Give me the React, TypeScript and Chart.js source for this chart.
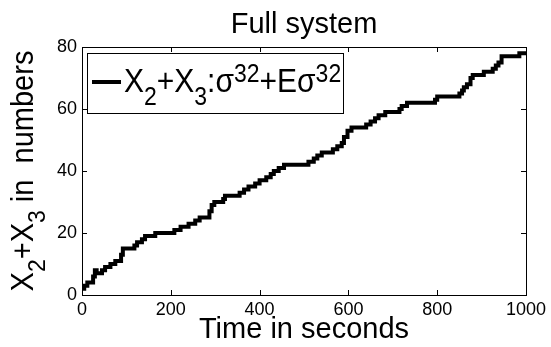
import { useEffect, useRef } from "react";
import { Chart, registerables } from "chart.js";

Chart.register(...registerables);

// Jump times (s) and the count X2+X3 reached at each jump
const TIME_S = [
  0, 5, 12, 25, 29, 33, 45, 52, 64, 75, 88, 92, 118, 124, 135, 142, 165, 208,
  222, 240, 255, 265, 287, 292, 298, 318, 322, 355, 365, 375, 390, 400, 415,
  425, 432, 443, 455, 510, 522, 530, 540, 565, 575, 585, 590, 598, 607, 640,
  650, 660, 668, 683, 715, 720, 732, 795, 800, 850, 856, 860, 867, 875, 880,
  905, 910, 925, 932, 938, 945, 985, 1000,
];
const COUNT = [
  2, 3, 4, 6, 8, 7, 8, 9, 10, 11, 13, 15, 16, 17, 18, 19, 20, 21,
  22, 23, 24, 25, 27, 29, 30, 31, 32, 33, 34, 35, 36, 37, 38,
  39, 40, 41, 42, 43, 44, 45, 46, 47, 48, 49, 51, 53, 54, 55,
  56, 57, 58, 59, 60, 61, 62, 63, 64, 65, 66, 67, 68, 70, 71,
  72, 72, 73, 74, 75, 77, 78, 78,
];

const X_TICKS = [0, 200, 400, 600, 800, 1000];
const Y_TICKS = [0, 20, 40, 60, 80];

const TITLE = "Full system";
const X_LABEL = "Time in seconds";

type Seg = [string, "n" | "sub" | "sup"];
const Y_LABEL: Seg[] = [
  ["X", "n"],
  ["2", "sub"],
  ["+X", "n"],
  ["3", "sub"],
  [" in  numbers", "n"],
];
const LEGEND_LABEL: Seg[] = [
  ["X", "n"],
  ["2", "sub"],
  ["+X", "n"],
  ["3", "sub"],
  [":\u03c3", "n"],
  ["32", "sup"],
  ["+E\u03c3", "n"],
  ["32", "sup"],
];

const FAMILY = '"Liberation Sans", Arial, Helvetica, sans-serif';

function drawRich(
  ctx: CanvasRenderingContext2D,
  segs: Seg[],
  x: number,
  baseline: number,
  mainPx: number,
  smallPx: number,
  subDrop: number,
  supRise: number,
  align: "left" | "center",
  yStretch = 1
) {
  const font = (m: string) => `${m === "n" ? mainPx : smallPx}px ${FAMILY}`;
  let total = 0;
  for (const [t, m] of segs) {
    ctx.font = font(m);
    total += ctx.measureText(t).width;
  }
  ctx.save();
  ctx.translate(align === "center" ? x - total / 2 : x, baseline);
  ctx.scale(1, yStretch);
  let cx = 0;
  ctx.textAlign = "left";
  ctx.textBaseline = "alphabetic";
  for (const [t, m] of segs) {
    ctx.font = font(m);
    const dy = m === "sub" ? subDrop : m === "sup" ? -supRise : 0;
    ctx.fillText(t, cx, dy / yStretch);
    cx += ctx.measureText(t).width;
  }
  ctx.restore();
}

const decorations = {
  id: "decorations",
  afterDatasetsDraw(chart: Chart) {
    const { ctx, chartArea } = chart;
    const { left, right, top, bottom } = chartArea;
    const xs = chart.scales.x;
    const ys = chart.scales.y;
    ctx.save();
    ctx.strokeStyle = "#000";
    ctx.fillStyle = "#000";
    ctx.lineWidth = 1;

    // inward ticks on all four sides
    const tl = 5;
    ctx.beginPath();
    for (const v of X_TICKS) {
      const px = Math.round(xs.getPixelForValue(v)) + 0.5;
      ctx.moveTo(px, bottom);
      ctx.lineTo(px, bottom - tl);
      ctx.moveTo(px, top);
      ctx.lineTo(px, top + tl);
    }
    for (const v of Y_TICKS) {
      const py = Math.round(ys.getPixelForValue(v)) + 0.5;
      ctx.moveTo(left, py);
      ctx.lineTo(left + tl, py);
      ctx.moveTo(right, py);
      ctx.lineTo(right - tl, py);
    }
    ctx.stroke();

    // frame
    ctx.strokeRect(
      Math.round(left) + 0.5,
      Math.round(top) + 0.5,
      Math.round(right - left),
      Math.round(bottom - top)
    );

    // legend box
    const bx = left + 5;
    const by = top + 6;
    const bw = 256;
    const bh = 60;
    ctx.fillStyle = "#fff";
    ctx.fillRect(bx, by, bw, bh);
    ctx.strokeStyle = "#000";
    ctx.lineWidth = 1;
    ctx.strokeRect(Math.round(bx) + 0.5, Math.round(by) + 0.5, bw, bh);
    ctx.lineWidth = 4;
    ctx.beginPath();
    ctx.moveTo(bx + 5, by + 29);
    ctx.lineTo(bx + 34, by + 29);
    ctx.stroke();
    ctx.fillStyle = "#000";
    drawRich(ctx, LEGEND_LABEL, bx + 37, by + 39, 30, 23, 13, 10, "left", 1.12);

    // title
    const midX = (left + right) / 2;
    ctx.font = `29px ${FAMILY}`;
    ctx.textAlign = "center";
    ctx.textBaseline = "alphabetic";
    ctx.fillText(TITLE, midX, 33);

    // x-axis title
    ctx.fillText(X_LABEL, midX, 338);

    // y-axis title (rotated, with subscripts)
    ctx.translate(33, (top + bottom) / 2);
    ctx.rotate(-Math.PI / 2);
    drawRich(ctx, Y_LABEL, 0, 0, 29, 23, 12, 10, "center", 1.05);
    ctx.restore();
  },
};

export default function App() {
  const ref = useRef<HTMLCanvasElement | null>(null);

  useEffect(() => {
    document.body.style.margin = "0";
    const canvas = ref.current;
    if (!canvas) return;
    const points = TIME_S.map((t, i) => ({ x: t, y: COUNT[i] }));
    const chart = new Chart(canvas, {
      type: "line",
      data: {
        datasets: [
          {
            data: points,
            borderColor: "#000",
            borderWidth: 4,
            stepped: "before",
            pointRadius: 0,
            fill: false,
            borderJoinStyle: "miter",
            borderCapStyle: "butt",
          },
        ],
      },
      options: {
        responsive: false,
        animation: false,
        events: [],
        layout: { padding: { top: 47, right: 25, left: 0, bottom: 0 } },
        plugins: {
          legend: { display: false },
          title: { display: false },
          tooltip: { enabled: false },
        },
        scales: {
          x: {
            type: "linear",
            min: 0,
            max: 1000,
            border: { display: false },
            grid: { display: false, drawTicks: false },
            afterBuildTicks: (s: any) => {
              s.ticks = X_TICKS.map((v) => ({ value: v }));
            },
            afterFit: (s: any) => {
              s.height = 52;
              s.paddingLeft = 0;
              s.paddingRight = 0;
            },
            ticks: {
              color: "#000",
              padding: 4,
              maxRotation: 0,
              autoSkip: false,
              callback: (v: any) => String(v),
              font: { family: FAMILY, size: 18 },
            },
          },
          y: {
            type: "linear",
            min: 0,
            max: 80,
            border: { display: false },
            grid: { display: false, drawTicks: false },
            afterBuildTicks: (s: any) => {
              s.ticks = Y_TICKS.map((v) => ({ value: v }));
            },
            afterFit: (s: any) => {
              s.width = 82;
              s.paddingTop = 0;
              s.paddingBottom = 0;
            },
            ticks: {
              color: "#000",
              padding: 5,
              autoSkip: false,
              callback: (v: any) => String(v),
              font: { family: FAMILY, size: 18 },
            },
          },
        },
      },
      plugins: [decorations],
    });
    return () => chart.destroy();
  }, []);

  return (
    <div style={{ width: 551, height: 347, background: "#fff" }}>
      <canvas ref={ref} width={551} height={347} />
    </div>
  );
}
